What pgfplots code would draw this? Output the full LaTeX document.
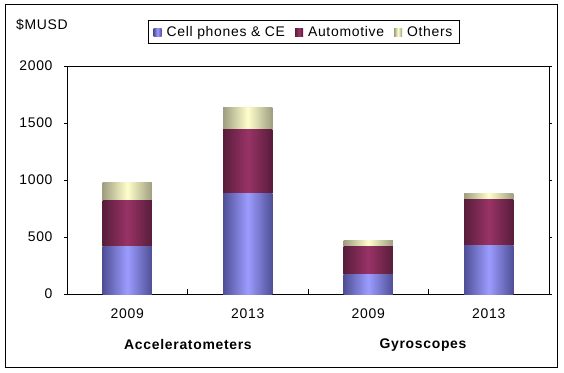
\documentclass[border=0pt]{standalone}
\usepackage{fontspec}
\setmainfont[LetterSpace=5]{Liberation Sans}
\usepackage{pgfplots}
\pgfplotsset{compat=1.18}
\definecolor{cellc}{HTML}{9C9CFF}
\definecolor{celld}{HTML}{4F4F96}
\definecolor{autoc}{HTML}{993366}
\definecolor{autod}{HTML}{581D3B}
\definecolor{othc}{HTML}{FFFFCC}
\definecolor{othd}{HTML}{9E9E80}
\pgfplotsset{
  barax/.style={at={(67bp,78bp)}, anchor=south west, scale only axis,
    width=482bp, height=228bp, ybar stacked, bar width=0.41,
    xmin=-0.5, xmax=3.5, ymin=0, ymax=2000},
  cellbar/.style={draw=none, left color=celld, right color=celld, middle color=cellc},
  autobar/.style={draw=none, left color=autod, right color=autod, middle color=autoc},
  othbar/.style={draw=none, left color=othd, right color=othd, middle color=othc},
}
\begin{document}
\begin{tikzpicture}[x=1bp,y=1bp]
\useasboundingbox (0,0) rectangle (564,372);
\draw[line width=1bp] (5,5) rectangle (557,367);
% category 0 + frame, ticks, legend
\begin{axis}[barax,
  ytick={0,500,1000,1500,2000},
  xtick={0,1,2,3}, xticklabels={2009,2013,2009,2013},
  major x tick style={draw=none},
  tick align=outside, major tick length=3bp,
  axis line style={line width=0.9bp},
  every tick/.style={black, line width=0.9bp},
  /pgf/number format/assume math mode=true,
  /pgf/number format/1000 sep={},
  tick label style={font=\fontsize{14}{16}\selectfont},
  yticklabel style={xshift=-8bp},
  xticklabel style={yshift=-8bp},
  legend columns=3,
  legend style={at={(0.4917,1.149)}, anchor=center, draw=black, line width=0.9bp,
    font=\fontsize{14}{16}\selectfont, inner xsep=5bp, inner ysep=3.5bp,
    /tikz/every even column/.append style={column sep=8bp}},
  legend image code/.code={\path[#1] (0bp,-4bp) rectangle (8bp,4bp);
    \path (0bp,0bp) -- (11bp,0bp);},
]
\addlegendimage{cellbar}
\addlegendimage{autobar}
\addlegendimage{othbar}
\addplot[cellbar, forget plot] coordinates {(0,420)};
\addplot[autobar, forget plot] coordinates {(0,400)};
\addplot[othbar, forget plot] coordinates {(0,160)};
\legend{Cell phones \& CE, Automotive, Others}
\draw[line width=0.9bp] (axis cs:0.5,0) -- ([yshift=5bp]axis cs:0.5,0);
\draw[line width=0.9bp] (axis cs:1.5,0) -- ([yshift=5bp]axis cs:1.5,0);
\draw[line width=0.9bp] (axis cs:2.5,0) -- ([yshift=5bp]axis cs:2.5,0);
\end{axis}
% category 1
\begin{axis}[barax, hide axis]
\addplot[cellbar] coordinates {(1,880)};
\addplot[autobar] coordinates {(1,565)};
\addplot[othbar] coordinates {(1,195)};
\end{axis}
% category 2
\begin{axis}[barax, hide axis]
\addplot[cellbar] coordinates {(2,175)};
\addplot[autobar] coordinates {(2,245)};
\addplot[othbar] coordinates {(2,50)};
\end{axis}
% category 3
\begin{axis}[barax, hide axis]
\addplot[cellbar] coordinates {(3,425)};
\addplot[autobar] coordinates {(3,400)};
\addplot[othbar] coordinates {(3,60)};
\end{axis}
\node[anchor=west, font=\fontsize{14}{16}\selectfont, inner sep=0] at (16,347) {\$MUSD};
\node[font=\fontsize{14}{16}\selectfont\bfseries] at (188,27) {Acceleratometers};
\node[font=\fontsize{14}{16}\selectfont\bfseries] at (423,27) {Gyroscopes};
\end{tikzpicture}
\end{document}
